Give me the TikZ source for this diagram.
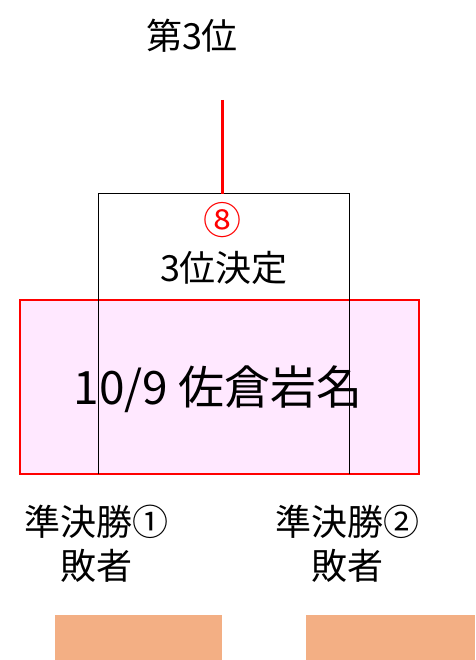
\documentclass[tikz,border=0pt]{standalone}
\usepackage{fontspec}
\setmainfont{Noto Sans CJK JP}
\newfontfamily\jp{Noto Sans CJK JP}
\definecolor{pinkfill}{HTML}{FFE8FF}
\definecolor{orangebox}{HTML}{F3AF84}
\begin{document}
\begin{tikzpicture}[x=1pt,y=-1pt,
  lbl/.style={inner sep=0pt, font=\jp\fontsize{36}{44}\selectfont, align=center},
  bigl/.style={inner sep=0pt, font=\jp\fontsize{46}{50}\selectfont},
  venue/.style={draw=red, line width=1.5pt, fill=pinkfill},
  slot/.style={fill=orangebox, draw=none},
  bracket/.style={draw=black, line width=1pt},
  win/.style={draw=red, line width=3pt}]
\useasboundingbox (0,0) rectangle (475,660);
% venue box
\draw[venue] (20,300) rectangle (419,474);
\node[bigl] (venue) at (218,389) {10/9 佐倉岩名};
% bracket
\coordinate (bl) at (98,474);
\coordinate (br) at (349,474);
\coordinate (tl) at (98,194);
\coordinate (tr) at (349,194);
\coordinate (top) at (222,194);
\draw[bracket] (bl) -- (tl) -- (tr) -- (br);
% winner line
\node[lbl] (third) at (192,36) {第3位};
\coordinate (wtop) at (222,100);
\draw[win] (wtop) -- (top);
\node[inner sep=0pt, text=red, font=\jp\fontsize{38}{40}\selectfont] (m8) at (222,220) {⑧};
\node[lbl] (match) at (224,268) {3位決定};
% bottom
\node[lbl] (sf1) at (96,544) {準決勝①\\敗者};
\node[lbl] (sf2) at (347,544) {準決勝②\\敗者};
\path[slot] (55,615) rectangle (222,660);
\path[slot] (306,615) rectangle (475,660);
\end{tikzpicture}
\end{document}
